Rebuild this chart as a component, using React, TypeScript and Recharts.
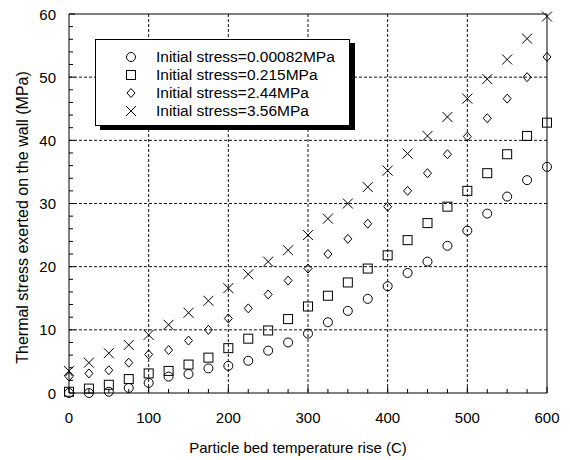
import React from 'react';
import { ScatterChart, Scatter, XAxis, YAxis, CartesianGrid, Legend } from 'recharts';

// particle bed temperature rise (C)
const temperatures = [
  0, 25, 50, 75, 100, 125, 150, 175, 200, 225, 250, 275, 300,
  325, 350, 375, 400, 425, 450, 475, 500, 525, 550, 575, 600,
];

// thermal stress on the wall (MPa), one list per initial stress
const stressA = [
  0.0, 0.0, 0.2, 0.8, 1.6, 2.6, 3.0, 3.9, 4.3, 5.1, 6.7, 8.0, 9.4,
  11.2, 13.0, 14.9, 16.9, 19.0, 20.8, 23.3, 25.7, 28.4, 31.1, 33.7, 35.8,
];
const stressB = [
  0.2, 0.7, 1.3, 2.2, 3.1, 3.5, 4.5, 5.6, 7.1, 8.6, 9.9, 11.7, 13.7,
  15.4, 17.5, 19.7, 21.8, 24.2, 26.9, 29.5, 32.0, 34.8, 37.8, 40.7, 42.8,
];
const stressC = [
  2.6, 3.1, 3.6, 4.8, 6.1, 6.8, 8.3, 10.0, 11.8, 13.4, 15.6, 17.8, 19.7,
  22.0, 24.4, 26.8, 29.5, 32.0, 34.8, 37.8, 40.6, 43.5, 46.6, 50.0, 53.2,
];
const stressD = [
  3.5, 4.8, 6.3, 7.6, 9.2, 10.8, 12.7, 14.6, 16.6, 18.8, 20.8, 22.6, 25.0,
  27.6, 30.0, 32.6, 35.2, 37.9, 40.7, 43.7, 46.6, 49.7, 52.8, 56.1, 59.6,
];

const seriesNames = [
  'Initial stress=0.00082MPa',
  'Initial stress=0.215MPa',
  'Initial stress=2.44MPa',
  'Initial stress=3.56MPa',
];

const xMajorTicks = [0, 100, 200, 300, 400, 500, 600];
const xMinorTicks = [
  0, 25, 50, 75, 100, 125, 150, 175, 200, 225, 250, 275, 300,
  325, 350, 375, 400, 425, 450, 475, 500, 525, 550, 575, 600,
];
const yMajorTicks = [0, 10, 20, 30, 40, 50, 60];
const yMinorTicks = [
  0, 2, 4, 6, 8, 10, 12, 14, 16, 18, 20, 22, 24, 26, 28, 30,
  32, 34, 36, 38, 40, 42, 44, 46, 48, 50, 52, 54, 56, 58, 60,
];
const xGridLines = [100, 200, 300, 400, 500];
const yGridLines = [10, 20, 30, 40, 50];

const FONT = '"Liberation Sans", Arial, Helvetica, sans-serif';
const INK = '#000';

const toPoints = (values: number[]) => temperatures.map((t, i) => ({ t, s: values[i] }));

const CircleMark = ({ cx, cy }: any) => (
  <circle cx={cx} cy={cy} r={4.5} fill="none" stroke={INK} strokeWidth={1} />
);
const SquareMark = ({ cx, cy }: any) => (
  <rect x={cx - 4.5} y={cy - 4.5} width={9} height={9} fill="none" stroke={INK} strokeWidth={1} />
);
const DiamondMark = ({ cx, cy }: any) => (
  <path
    d={`M${cx},${cy - 4.5}L${cx + 4},${cy}L${cx},${cy + 4.5}L${cx - 4},${cy}Z`}
    fill="none"
    stroke={INK}
    strokeWidth={1}
  />
);
const CrossMark = ({ cx, cy }: any) => (
  <path
    d={`M${cx - 5},${cy - 5}L${cx + 5},${cy + 5}M${cx - 5},${cy + 5}L${cx + 5},${cy - 5}`}
    fill="none"
    stroke={INK}
    strokeWidth={1}
  />
);

const marks = [CircleMark, SquareMark, DiamondMark, CrossMark];

// ticks point into the plot; labels only on the bottom/left major ticks
const makeTick = (side: 'bottom' | 'top' | 'left' | 'right', withLabel: boolean) => (props: any) => {
  const { x, y, payload } = props;
  const v = payload.value;
  const major = side === 'bottom' || side === 'top' ? xMajorTicks.includes(v) : yMajorTicks.includes(v);
  const len = major ? 6 : 4;
  let x2 = x;
  let y2 = y;
  if (side === 'bottom') y2 = y - len;
  if (side === 'top') y2 = y + len;
  if (side === 'left') x2 = x + len;
  if (side === 'right') x2 = x - len;
  return (
    <g>
      <line x1={x} y1={y} x2={x2} y2={y2} stroke={INK} strokeWidth={1} />
      {withLabel && major && side === 'bottom' && (
        <text x={x} y={y + 24} textAnchor="middle" dominantBaseline="central" fontSize={15} fill={INK} fontFamily={FONT}>
          {v}
        </text>
      )}
      {withLabel && major && side === 'left' && (
        <text x={x - 13} y={y} textAnchor="end" dominantBaseline="central" fontSize={15} fill={INK} fontFamily={FONT}>
          {v}
        </text>
      )}
    </g>
  );
};

const LegendBox = (props: any) => {
  const items = props.payload || [];
  return (
    <div
      style={{
        width: 255,
        boxSizing: 'border-box',
        border: '1px solid #000',
        background: '#fff',
        boxShadow: '5px 4px 0 #000',
        padding: '8px 0 5px 0',
        fontFamily: FONT,
        fontSize: 15.5,
        color: INK,
      }}
    >
      {items.map((entry: any, i: number) => {
        const Mark = marks[i];
        return (
          <div key={entry.value} style={{ display: 'flex', alignItems: 'center', height: 18 }}>
            <svg width={12} height={12} style={{ marginLeft: 29, marginRight: 19 }}>
              <Mark cx={6} cy={6} />
            </svg>
            <span style={{ lineHeight: '18px', whiteSpace: 'nowrap' }}>{entry.value}</span>
          </div>
        );
      })}
    </div>
  );
};

const App = () => {
  const series = [stressA, stressB, stressC, stressD];
  return (
    <div style={{ position: 'absolute', left: 0, top: 0, width: 570, height: 460, background: '#fff', fontFamily: FONT }}>
      <ScatterChart width={570} height={460} margin={{ top: 13, right: 22, bottom: 0, left: 0 }}>
        <CartesianGrid
          horizontalValues={yGridLines}
          verticalValues={xGridLines}
          stroke="#111"
          strokeDasharray="3 2"
          strokeWidth={1}
        />
        <XAxis
          type="number"
          dataKey="t"
          domain={[0, 600]}
          ticks={xMinorTicks}
          interval={0}
          height={67}
          tickSize={0}
          tickMargin={0}
          tickLine={false}
          axisLine={{ stroke: INK, strokeWidth: 1 }}
          tick={makeTick('bottom', true)}
          label={{
            content: (p: any) => (
              <text
                x={p.viewBox.x + p.viewBox.width / 2 - 10}
                y={p.viewBox.y + 54}
                textAnchor="middle"
                dominantBaseline="central"
                fontSize={15}
                fill={INK}
                fontFamily={FONT}
              >
                Particle bed temperature rise (C)
              </text>
            ),
          }}
        />
        <XAxis
          xAxisId="top"
          orientation="top"
          type="number"
          domain={[0, 600]}
          ticks={xMinorTicks}
          interval={0}
          height={1}
          tickSize={0}
          tickMargin={0}
          tickLine={false}
          axisLine={{ stroke: INK, strokeWidth: 1 }}
          tick={makeTick('top', false)}
        />
        <YAxis
          type="number"
          dataKey="s"
          domain={[0, 60]}
          ticks={yMinorTicks}
          interval={0}
          width={69}
          tickSize={0}
          tickMargin={0}
          tickLine={false}
          axisLine={{ stroke: INK, strokeWidth: 1 }}
          tick={makeTick('left', true)}
          label={{
            content: (p: any) => {
              const cx = p.viewBox.x + 22;
              const cy = p.viewBox.y + p.viewBox.height / 2 + 14;
              return (
                <text
                  x={cx}
                  y={cy}
                  transform={`rotate(-90, ${cx}, ${cy})`}
                  textAnchor="middle"
                  dominantBaseline="central"
                  fontSize={16}
                  fill={INK}
                  fontFamily={FONT}
                >
                  Thermal stress exerted on the wall (MPa)
                </text>
              );
            },
          }}
        />
        <YAxis
          yAxisId="right"
          orientation="right"
          type="number"
          domain={[0, 60]}
          ticks={yMinorTicks}
          interval={0}
          width={1}
          tickSize={0}
          tickMargin={0}
          tickLine={false}
          axisLine={{ stroke: INK, strokeWidth: 1 }}
          tick={makeTick('right', false)}
        />
        <Legend
          layout="vertical"
          align="center"
          verticalAlign="middle"
          wrapperStyle={{ left: 95, top: 39, width: 'auto', height: 'auto' }}
          content={<LegendBox />}
        />
        {series.map((values, i) => (
          <Scatter
            key={seriesNames[i]}
            name={seriesNames[i]}
            data={toPoints(values)}
            shape={marks[i]}
            fill="none"
            stroke={INK}
            isAnimationActive={false}
          />
        ))}
      </ScatterChart>
    </div>
  );
};

export default App;
